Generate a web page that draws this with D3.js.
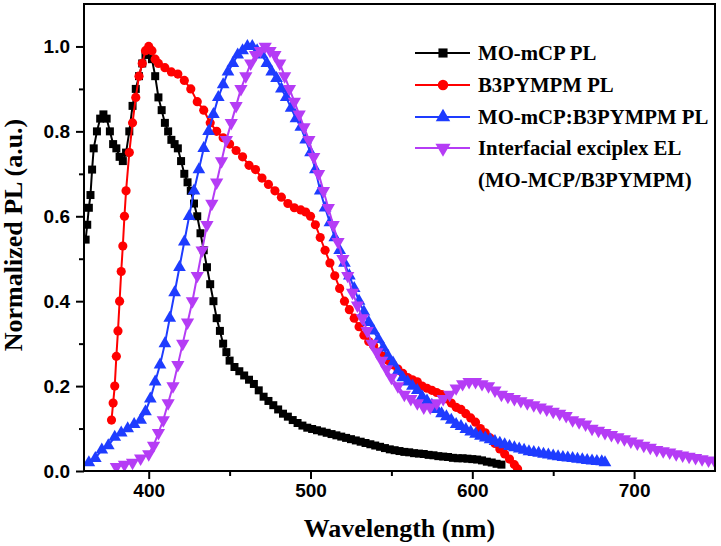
<!DOCTYPE html>
<html><head><meta charset="utf-8">
<script src="https://cdn.jsdelivr.net/npm/d3@7"></script>
<style>html,body{margin:0;padding:0;background:#fff;}svg{display:block;}</style>
</head><body><svg id="c" width="721" height="546"></svg>
<script>
// ---- data ----
const seriesNames = ["MO-mCP PL", "B3PYMPM PL", "MO-mCP:B3PYMPM PL", "Interfacial exciplex EL"];
const legendExtra = "(MO-MCP/B3PYMPM)";
const xTicks = [400, 500, 600, 700];
const yTicks = [0.0, 0.2, 0.4, 0.6, 0.8, 1.0];

const blackX = [361,362,363,364,365,366,368,370,372,374,376,378,380,382,384,386,388,390,392,394,396,398,400,402,404,406,408,410,412,414,416,418,420,422,424,426,428,430,432,434,436,438,440,442,444,446,448,450,453,456,459,462,465,468,471,474,477,480,483,486,489,492,495,498,501,504,507,510,513,516,519,522,525,528,531,534,537,540,543,546,549,552,555,558,561,564,567,570,573,576,579,582,585,588,591,594,597,600,603,606,609,612,615,618];
const blackY = [0.545,0.58,0.62,0.65,0.71,0.76,0.80,0.83,0.84,0.83,0.80,0.77,0.76,0.74,0.73,0.75,0.80,0.86,0.90,0.93,0.96,0.98,0.99,0.97,0.93,0.88,0.85,0.82,0.80,0.78,0.77,0.76,0.73,0.70,0.68,0.66,0.63,0.60,0.56,0.52,0.48,0.44,0.40,0.36,0.33,0.30,0.28,0.26,0.245,0.235,0.225,0.215,0.205,0.19,0.175,0.165,0.155,0.145,0.135,0.128,0.12,0.113,0.107,0.102,0.099,0.096,0.093,0.09,0.087,0.084,0.081,0.078,0.075,0.072,0.069,0.066,0.063,0.06,0.057,0.054,0.051,0.049,0.047,0.045,0.044,0.042,0.041,0.04,0.038,0.037,0.035,0.034,0.033,0.031,0.03,0.03,0.029,0.028,0.027,0.025,0.022,0.02,0.017,0.015];

const redX = [377,378,379,380,381,382,383,384,385,386,388,390,392,394,396,398,400,402,404,406,410,414,418,422,426,430,434,438,442,446,450,454,458,462,466,470,474,478,482,486,490,494,497,500,503,506,509,512,515,518,521,524,527,530,533,536,539,542,545,548,551,554,557,560,563,566,569,572,575,578,581,584,587,590,593,596,599,602,605,608,611,614,617,620,623,626,628];
const redY = [0.12,0.16,0.20,0.27,0.33,0.40,0.47,0.53,0.60,0.66,0.75,0.82,0.88,0.93,0.96,0.99,1.0,0.99,0.97,0.96,0.95,0.94,0.935,0.92,0.90,0.87,0.85,0.82,0.80,0.785,0.77,0.755,0.74,0.72,0.71,0.69,0.675,0.66,0.645,0.63,0.62,0.615,0.61,0.60,0.58,0.55,0.52,0.49,0.46,0.43,0.40,0.38,0.36,0.34,0.32,0.305,0.295,0.28,0.27,0.26,0.25,0.24,0.23,0.22,0.215,0.21,0.20,0.195,0.19,0.185,0.18,0.17,0.16,0.15,0.145,0.135,0.125,0.115,0.10,0.09,0.078,0.065,0.052,0.04,0.028,0.015,0.005];

const blueX = [363,367,371,375,379,383,387,391,395,398,401,404,407,410,413,416,419,422,425,428,431,434,437,440,443,446,449,452,455,458,461,464,467,470,473,476,479,482,485,488,491,494,497,500,503,506,509,512,515,518,521,524,527,530,533,536,539,542,545,548,551,554,557,560,563,566,569,572,575,578,581,584,587,590,593,596,599,602,605,608,611,614,617,620,623,626,629,632,635,638,641,644,647,650,653,656,659,662,665,668,671,674,677,680,682];
const blueY = [0.02,0.03,0.05,0.06,0.08,0.09,0.10,0.11,0.12,0.14,0.17,0.21,0.25,0.30,0.36,0.42,0.48,0.54,0.60,0.66,0.71,0.76,0.80,0.84,0.88,0.91,0.94,0.96,0.98,0.99,1.0,1.0,0.99,0.98,0.96,0.94,0.925,0.90,0.88,0.855,0.83,0.81,0.78,0.75,0.71,0.66,0.62,0.585,0.55,0.52,0.49,0.46,0.43,0.40,0.375,0.35,0.33,0.31,0.29,0.27,0.255,0.235,0.22,0.21,0.20,0.19,0.175,0.165,0.155,0.145,0.135,0.128,0.12,0.11,0.105,0.098,0.092,0.087,0.082,0.078,0.074,0.07,0.066,0.062,0.058,0.055,0.052,0.049,0.046,0.044,0.042,0.04,0.038,0.036,0.034,0.032,0.031,0.03,0.028,0.027,0.025,0.024,0.023,0.022,0.02];

const purpleX = [380,385,390,395,400,403,406,409,412,415,418,421,424,427,430,433,436,439,442,445,448,451,454,457,460,463,466,469,472,475,478,481,484,487,490,493,496,499,502,505,508,511,514,517,520,523,526,529,532,535,538,541,544,547,550,554,558,562,566,570,574,578,582,586,590,594,598,602,606,610,614,618,622,626,630,634,638,642,646,650,654,658,662,666,670,674,678,682,686,690,694,698,702,706,710,714,718,722,726,730,734,738,742,746,750];
const purpleY = [0.01,0.015,0.02,0.03,0.04,0.06,0.09,0.12,0.16,0.20,0.25,0.30,0.35,0.40,0.46,0.52,0.58,0.63,0.68,0.73,0.78,0.82,0.86,0.90,0.93,0.96,0.98,0.99,1.0,0.99,0.98,0.96,0.93,0.90,0.87,0.84,0.81,0.78,0.74,0.70,0.66,0.62,0.58,0.54,0.50,0.46,0.42,0.39,0.36,0.33,0.30,0.28,0.26,0.24,0.22,0.20,0.18,0.17,0.16,0.15,0.15,0.16,0.17,0.18,0.195,0.205,0.21,0.21,0.205,0.20,0.19,0.18,0.175,0.17,0.165,0.16,0.155,0.15,0.145,0.14,0.135,0.13,0.12,0.115,0.11,0.10,0.095,0.09,0.085,0.08,0.075,0.07,0.065,0.06,0.055,0.05,0.047,0.044,0.04,0.037,0.034,0.031,0.028,0.025,0.022];

const colors = ["#000000", "#ff0000", "#1e3cff", "#b53cf5"];

// ---- layout ----
const svg = d3.select("#c");
const L = 84, R = 715, T = 4, B = 471;
const x = d3.scaleLinear().domain([360, 750]).range([L, R]);
const y = d3.scaleLinear().domain([0, 1.1]).range([B, T]);

const sans = "'Liberation Sans', Arial, sans-serif";
const serif = "'Liberation Serif', 'Times New Roman', serif";

const clip = svg.append("defs").append("clipPath").attr("id", "pc");
clip.append("rect").attr("x", L).attr("y", T).attr("width", R - L).attr("height", B - T);

const series = [
  {x: blackX, y: blackY, sym: d3.symbolSquare, size: 64, rot: 0},
  {x: redX, y: redY, sym: d3.symbolCircle, size: 66, rot: 0},
  {x: blueX, y: blueY, sym: d3.symbolTriangle, size: 70, rot: 0},
  {x: purpleX, y: purpleY, sym: d3.symbolTriangle, size: 76, rot: 180}
];

const plot = svg.append("g").attr("clip-path", "url(#pc)");
series.forEach((s, i) => {
  const pts = s.x.map((v, k) => [v, s.y[k]]);
  const g = plot.append("g");
  g.append("path").datum(pts)
    .attr("fill", "none").attr("stroke", colors[i]).attr("stroke-width", 2)
    .attr("d", d3.line().x(d => x(d[0])).y(d => y(d[1])));
  g.selectAll("path.m").data(pts).join("path").attr("class", "m")
    .attr("d", d3.symbol().type(s.sym).size(s.size))
    .attr("transform", d => `translate(${x(d[0])},${y(d[1])}) rotate(${s.rot})`)
    .attr("fill", colors[i]);
});

// ---- axes ----
const xAxis = d3.axisBottom(x).tickValues(xTicks).tickSize(8).tickPadding(5).tickFormat(d3.format("d"));
const xMinor = d3.axisBottom(x).tickValues([450, 550, 650]).tickSize(5).tickFormat("");
const yAxis = d3.axisLeft(y).tickValues(yTicks).tickSize(8).tickPadding(6).tickFormat(d3.format(".1f"));
const yMinor = d3.axisLeft(y).tickValues([0.1, 0.3, 0.5, 0.7, 0.9]).tickSize(5).tickFormat("");

function style(g) {
  g.selectAll(".domain").remove();
  g.selectAll("line").attr("stroke", "#000").attr("stroke-width", 2);
  g.selectAll("text").attr("fill", "#000").attr("font-family", sans).attr("font-weight", "bold").attr("font-size", 19);
}
svg.append("g").attr("transform", `translate(0,${B})`).call(xAxis).call(style);
svg.append("g").attr("transform", `translate(0,${B})`).call(xMinor).call(style);
svg.append("g").attr("transform", `translate(${L},0)`).call(yAxis).call(style);
svg.append("g").attr("transform", `translate(${L},0)`).call(yMinor).call(style);

// frame
svg.append("rect").attr("x", L).attr("y", T).attr("width", R - L).attr("height", B - T)
  .attr("fill", "none").attr("stroke", "#000").attr("stroke-width", 2);

// titles
svg.append("text").attr("x", (L + R) / 2).attr("y", 537).attr("text-anchor", "middle")
  .attr("font-family", serif).attr("font-weight", "bold").attr("font-size", 26).text("Wavelength (nm)");
svg.append("text").attr("transform", "translate(22,235) rotate(-90)").attr("text-anchor", "middle")
  .attr("font-family", serif).attr("font-weight", "bold").attr("font-size", 26).text("Normalized PL (a.u.)");

// legend
const lg = svg.append("g");
const rows = [53, 85, 117, 148];
series.forEach((s, i) => {
  const ry = rows[i];
  lg.append("line").attr("x1", 415).attr("x2", 470).attr("y1", ry).attr("y2", ry)
    .attr("stroke", colors[i]).attr("stroke-width", 2);
  lg.append("path").attr("d", d3.symbol().type(s.sym).size(s.size * 1.3)())
    .attr("transform", `translate(443,${ry}) rotate(${s.rot})`).attr("fill", colors[i]);
  lg.append("text").attr("x", 478).attr("y", ry).attr("dy", "0.35em")
    .attr("font-family", serif).attr("font-weight", "bold").attr("font-size", 20.8).text(seriesNames[i]);
});
lg.append("text").attr("x", 478).attr("y", 180).attr("dy", "0.35em")
  .attr("font-family", serif).attr("font-weight", "bold").attr("font-size", 20.8).text(legendExtra);
</script></body></html>
